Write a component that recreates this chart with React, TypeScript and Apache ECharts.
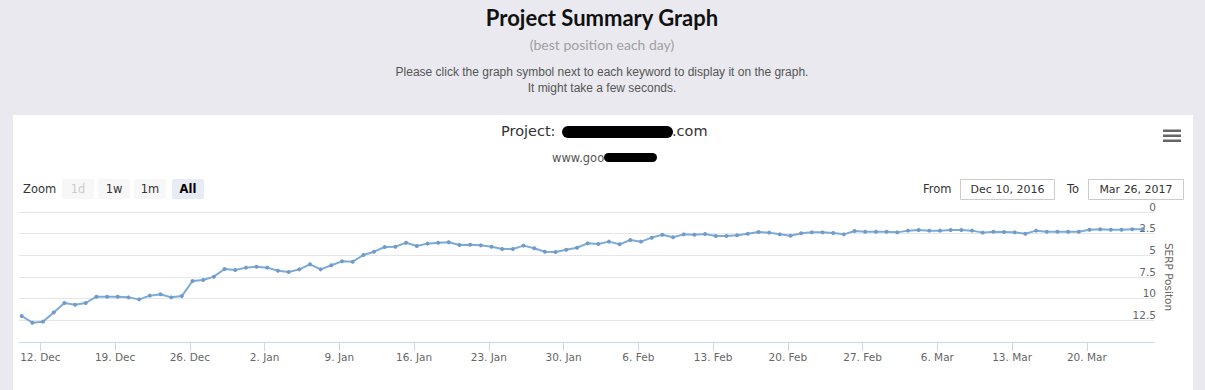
import React, { useEffect, useRef } from "react";
import * as echarts from "echarts";

// ---------- data ----------
const START_DATE = "2016-12-10";
const decPositions = [12.0, 12.77, 12.65, 11.6, 10.5, 10.7, 10.5, 9.77, 9.77, 9.77, 9.85, 10.08, 9.65, 9.5, 9.85, 9.7, 7.96, 7.85, 7.46, 6.58, 6.69, 6.42];
const janPositions = [6.31, 6.42, 6.77, 6.92, 6.62, 6.04, 6.62, 6.15, 5.69, 5.73, 4.96, 4.58, 4.04, 4.0, 3.55, 3.92, 3.65, 3.54, 3.5, 3.81, 3.77, 3.85, 4.0, 4.27, 4.27, 3.88, 4.19, 4.58, 4.62, 4.35, 4.12];
const febPositions = [3.62, 3.69, 3.42, 3.73, 3.23, 3.42, 2.96, 2.62, 2.92, 2.58, 2.62, 2.54, 2.77, 2.77, 2.69, 2.5, 2.31, 2.38, 2.58, 2.73, 2.46, 2.35, 2.35, 2.42, 2.58, 2.19, 2.27, 2.27];
const marPositions = [2.27, 2.35, 2.15, 2.08, 2.15, 2.15, 2.08, 2.08, 2.15, 2.38, 2.27, 2.31, 2.35, 2.5, 2.15, 2.27, 2.27, 2.27, 2.27, 2.04, 2.0, 2.04, 2.04, 2.0, 2.0];

const tickDates = ["2016-12-12", "2016-12-19", "2016-12-26", "2017-01-02", "2017-01-09", "2017-01-16", "2017-01-23", "2017-01-30", "2017-02-06", "2017-02-13", "2017-02-20", "2017-02-27", "2017-03-06", "2017-03-13", "2017-03-20"];
const tickLabels = ["12. Dec", "19. Dec", "26. Dec", "2. Jan", "9. Jan", "16. Jan", "23. Jan", "30. Jan", "6. Feb", "13. Feb", "20. Feb", "27. Feb", "6. Mar", "13. Mar", "20. Mar"];

const RANGE_FROM = "2016-12-10T00:00:00Z";
const RANGE_TO = "2017-03-26T07:00:00Z";
const fromLabel = "Dec 10, 2016";
const toLabel = "Mar 26, 2017";
const zoomButtons = ["1d", "1w", "1m", "All"];

// ---------- helpers ----------
const DAY = 86400000;
const SAMPLE_HOUR = 6 * 3600000;
const allPositions = [...decPositions, ...janPositions, ...febPositions, ...marPositions];
const startTime = Date.parse(START_DATE + "T00:00:00Z");
const seriesData = allPositions.map((v, i) => [startTime + i * DAY + SAMPLE_HOUR, v]);
const tickTimes = tickDates.map((d) => Date.parse(d + "T00:00:00Z"));

const CHART_FONT = "'DejaVu Sans', sans-serif";
const LINE_COLOR = "#7eaad6";

function txt(text: string, x: number, y: number, opts: any = {}) {
  const align = opts.align || "left";
  return {
    type: "text",
    x,
    y,
    z: 5,
    style: {
      text,
      fill: opts.fill || "#333",
      fontSize: opts.fontSize || 12,
      fontFamily: opts.fontFamily || CHART_FONT,
      fontWeight: opts.fontWeight || "normal",
      align,
      textAlign: align,
      verticalAlign: "middle",
      textVerticalAlign: "middle",
    },
  };
}

export default function App() {
  const ref = useRef<HTMLDivElement>(null);

  useEffect(() => {
    if (!ref.current) return;
    const chart = echarts.init(ref.current, undefined, { renderer: "svg" });

    const btnX = [62, 98, 134, 172];
    const buttons: any[] = [];
    zoomButtons.forEach((b, i) => {
      const selected = b === "All";
      const disabled = b === "1d";
      buttons.push({
        type: "rect",
        z: 4,
        shape: { x: btnX[i], y: 179, width: 32, height: 20, r: 2 },
        style: { fill: selected ? "#e6ebf5" : "#f7f7f7" },
      });
      buttons.push(
        txt(b, btnX[i] + 16, 189, {
          align: "center",
          fontSize: 11.5,
          fill: disabled ? "#cccccc" : selected ? "#000" : "#333",
          fontWeight: selected ? "bold" : "normal",
        })
      );
    });

    const graphics: any[] = [
      {
        type: "rect",
        z: -100,
        shape: { x: 13, y: 115, width: 1180, height: 280 },
        style: { fill: "#ffffff" },
      },
      txt("Project Summary Graph", 602, 17, { align: "center", fontSize: 22, fontWeight: "bold", fontFamily: "Lato, sans-serif", fill: "#111" }),
      txt("(best position each day)", 602, 44, { align: "center", fontSize: 14, fontFamily: "Lato, sans-serif", fill: "#a0a0a0" }),
      txt("Please click the graph symbol next to each keyword to display it on the graph.", 602, 72, { align: "center", fontSize: 12, fontFamily: "'Liberation Sans', Arial, sans-serif", fill: "#555" }),
      txt("It might take a few seconds.", 602, 88, { align: "center", fontSize: 12, fontFamily: "'Liberation Sans', Arial, sans-serif", fill: "#555" }),
      txt("Project:", 501, 131, { fontSize: 14.5, fill: "#333" }),
      { type: "rect", z: 5, shape: { x: 562, y: 126, width: 111, height: 12, r: 6 }, style: { fill: "#000" } },
      txt(".com", 672, 131, { fontSize: 14.5, fill: "#333" }),
      txt("www.goo", 552, 158, { fontSize: 11.5, fill: "#555" }),
      { type: "rect", z: 5, shape: { x: 604, y: 153, width: 53, height: 9, r: 4.5 }, style: { fill: "#000" } },
      // hamburger
      { type: "rect", z: 5, shape: { x: 1163, y: 129.5, width: 18, height: 2.5 }, style: { fill: "#666" } },
      { type: "rect", z: 5, shape: { x: 1163, y: 134.5, width: 18, height: 2.5 }, style: { fill: "#666" } },
      { type: "rect", z: 5, shape: { x: 1163, y: 139.5, width: 18, height: 2.5 }, style: { fill: "#666" } },
      // zoom
      txt("Zoom", 23, 189, { fontSize: 11.5, fill: "#333" }),
      ...buttons,
      // range inputs
      txt("From", 923, 189, { fontSize: 11.5, fill: "#333" }),
      { type: "rect", z: 4, shape: { x: 960.5, y: 179.5, width: 94, height: 20 }, style: { fill: "#fff", stroke: "#cccccc", lineWidth: 1 } },
      txt(fromLabel, 1007.5, 189, { align: "center", fontSize: 11, fill: "#333" }),
      txt("To", 1067, 189, { fontSize: 11.5, fill: "#333" }),
      { type: "rect", z: 4, shape: { x: 1088.5, y: 179.5, width: 95, height: 20 }, style: { fill: "#fff", stroke: "#cccccc", lineWidth: 1 } },
      txt(toLabel, 1136, 189, { align: "center", fontSize: 11, fill: "#333" }),
    ];

    chart.setOption({
      animation: false,
      backgroundColor: "#e9e9ef",
      graphic: { elements: graphics },
      grid: {
        left: 19,
        right: 51,
        top: 212,
        bottom: 48,
        containLabel: false,
        outerBoundsMode: "none",
      },
      xAxis: {
        type: "value",
        min: Date.parse(RANGE_FROM),
        max: Date.parse(RANGE_TO),
        axisLine: { onZero: false, lineStyle: { color: "#ccd6eb", width: 1 } },
        axisTick: {
          show: true,
          length: 9,
          customValues: tickTimes,
          lineStyle: { color: "#ccd6eb" },
        },
        axisLabel: {
          customValues: tickTimes,
          color: "#666",
          fontSize: 10.5,
          fontFamily: CHART_FONT,
          margin: 9,
          hideOverlap: false,
          formatter: (value: number) => {
            const i = tickTimes.findIndex((t) => Math.abs(t - value) < DAY / 2);
            return i >= 0 ? tickLabels[i] : "";
          },
        },
        splitLine: { show: false },
      },
      yAxis: {
        type: "value",
        position: "right",
        inverse: true,
        min: 0,
        max: 15,
        interval: 2.5,
        name: "SERP Positon",
        nameLocation: "middle",
        nameRotate: -90,
        nameGap: 9,
        nameMoveOverlap: false,
        nameTextStyle: { color: "#666", fontSize: 10.5, fontFamily: CHART_FONT },
        axisLine: { show: false },
        axisTick: { show: false },
        axisLabel: {
          showMaxLabel: false,
          align: "right",
          verticalAlign: "bottom",
          margin: 2,
          color: "#666",
          fontSize: 10.5,
          fontFamily: CHART_FONT,
          formatter: (v: number) => String(v),
        },
        splitLine: { lineStyle: { color: "#e6e6e6", width: 1 } },
      },
      series: [
        {
          type: "line",
          name: "Best position",
          data: seriesData,
          showSymbol: true,
          symbol: "circle",
          symbolSize: 4,
          lineStyle: { color: LINE_COLOR, width: 2 },
          itemStyle: { color: "#6f9cc9" },
          z: 3,
        },
      ],
    });

    return () => chart.dispose();
  }, []);

  return (
    <div
      ref={ref}
      style={{ position: "absolute", left: 0, top: 0, width: 1205, height: 390 }}
    />
  );
}
